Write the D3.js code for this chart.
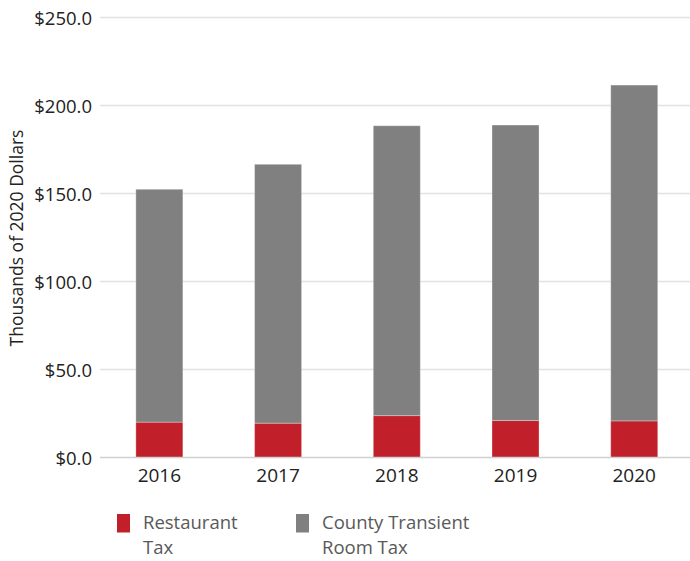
<!DOCTYPE html>
<html>
<head>
<meta charset="utf-8">
<script src="https://cdn.jsdelivr.net/npm/d3@7"></script>
<style>
  html, body { margin: 0; padding: 0; background: #fff; }
  svg { display: block; font-family: "Open Sans", "Noto Sans", sans-serif; }
</style>
</head>
<body>
<svg id="chart" width="690" height="561"></svg>
<script>
// Tax revenue by year, thousands of 2020 dollars
const years = ["2016", "2017", "2018", "2019", "2020"];
const restaurantTax = [20.1, 19.5, 23.8, 21.0, 20.8];
const roomTax = [132.3, 147.1, 164.7, 167.9, 190.8];
const yTicks = [0, 50, 100, 150, 200, 250];
const seriesNames = ["Restaurant Tax", "County Transient Room Tax"];
const seriesColors = ["#c1202a", "#808080"];

const FONT = '"Open Sans", "Noto Sans", sans-serif';
const svg = d3.select("#chart");
const plotLeft = 100, plotRight = 693.6, plotTop = 17.5, plotBottom = 457.5;

const x = d3.scaleBand().domain(years).range([plotLeft, plotRight])
  .paddingInner(0.604).paddingOuter(0.302);
const y = d3.scaleLinear().domain([0, 250]).range([plotBottom, plotTop]);

// gridlines
svg.append("g").selectAll("line").data(yTicks.filter(d => d > 0)).join("line")
  .attr("x1", plotLeft).attr("x2", 690)
  .attr("y1", d => y(d)).attr("y2", d => y(d))
  .attr("stroke", "#e1e1e1").attr("stroke-width", 1.5);

// y axis labels
const yAxis = d3.axisLeft(y).tickValues(yTicks).tickSize(0).tickPadding(8)
  .tickFormat(d => "$" + d3.format(".1f")(d));
const gy = svg.append("g").attr("transform", `translate(${plotLeft},0)`).call(yAxis)
  .attr("font-family", FONT).attr("font-size", 18.5);
gy.select(".domain").remove();
gy.selectAll("text").attr("fill", "#222").attr("dy", "0.4em");

// stacked bars
const rows = years.map((yr, i) => ({ year: yr, restaurant: restaurantTax[i], room: roomTax[i] }));
const stack = d3.stack().keys(["restaurant", "room"])(rows);
svg.append("g").selectAll("g").data(stack).join("g")
  .attr("fill", (d, i) => seriesColors[i])
  .selectAll("rect").data(d => d).join("rect")
  .attr("x", d => x(d.data.year))
  .attr("width", x.bandwidth())
  .attr("y", d => y(d[1]))
  .attr("height", d => y(d[0]) - y(d[1]))
  .attr("stroke", "rgba(255,255,255,0.3)")
  .attr("stroke-width", 1);

// baseline
svg.append("line")
  .attr("x1", plotLeft).attr("x2", 690)
  .attr("y1", y(0)).attr("y2", y(0))
  .attr("stroke", "#d0d0d0").attr("stroke-width", 1.5);

// x axis labels
const xAxis = d3.axisBottom(x).tickSize(0).tickPadding(11);
const gx = svg.append("g").attr("transform", `translate(0,${plotBottom})`).call(xAxis)
  .attr("font-family", FONT).attr("font-size", 19);
gx.select(".domain").remove();
gx.selectAll("text").attr("fill", "#222");

// y axis title
svg.append("text")
  .attr("transform", "translate(23,238) rotate(-90)")
  .attr("text-anchor", "middle")
  .attr("font-size", 17.5).attr("fill", "#222")
  .text("Thousands of 2020 Dollars");

// legend
const legendX = [117, 296];
const legendLines = [["Restaurant", "Tax"], ["County Transient", "Room Tax"]];
const lg = svg.append("g").selectAll("g").data(seriesNames).join("g")
  .attr("transform", (d, i) => `translate(${legendX[i]},514)`);
lg.append("rect").attr("width", 13).attr("height", 18.5)
  .attr("fill", (d, i) => seriesColors[i]);
lg.append("text")
  .attr("font-size", 18.5).attr("fill", "#595959")
  .selectAll("tspan").data((d, i) => legendLines[i]).join("tspan")
  .attr("x", 26).attr("y", (d, j) => 15 + j * 25)
  .text(d => d);
</script>
</body>
</html>
